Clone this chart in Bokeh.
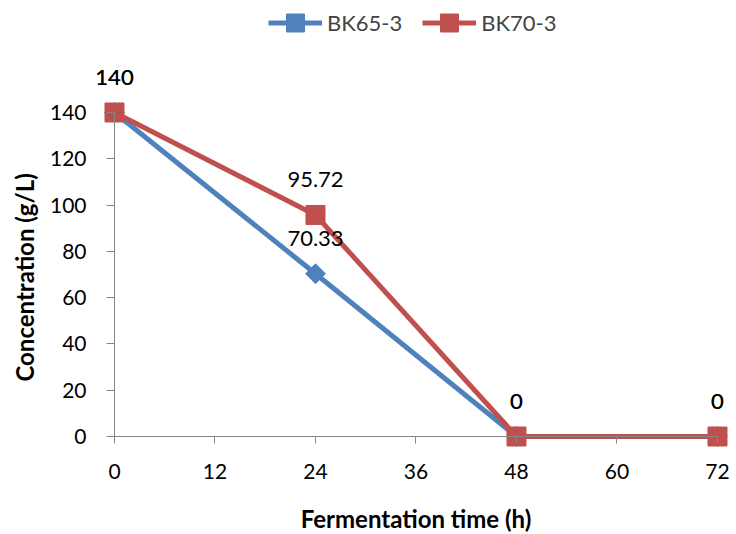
import numpy as np
from bokeh.plotting import figure
from bokeh.models import Range1d, FixedTicker, Legend, LegendItem, ColumnDataSource
from bokeh.core.properties import value
from bokeh.embed import file_html
from bokeh.resources import INLINE

# ---- data ----
time_h = [0, 24, 48, 72]
bk65_3 = [140, 70.33, 0, 0]
bk70_3 = [140, 95.72, 0, 0]
bk65_labels = ["140", "70.33", "0", "0"]
bk70_labels = ["140", "95.72", "0", "0"]
x_ticks = [0, 12, 24, 36, 48, 60, 72]
y_ticks = [0, 20, 40, 60, 80, 100, 120, 140]

BLUE = "#4F81BD"
RED = "#C0504D"
AXIS = "#868686"
FONT = "Lato"

p = figure(width=736, height=534, output_backend="svg", toolbar_location=None,
           x_range=Range1d(-13.612, 74.269), y_range=Range1d(-42.345, 188.394),
           min_border_left=0, min_border_right=0, min_border_top=0, min_border_bottom=0)
p.outline_line_color = None
p.grid.visible = False
p.background_fill_color = "white"
p.border_fill_color = "white"

for ax in (p.xaxis[0], p.yaxis[0]):
    ax.fixed_location = 0
    ax.axis_line_color = AXIS
    ax.major_tick_line_color = AXIS
    ax.minor_tick_line_color = None
    ax.major_tick_in = 0
    ax.major_label_text_font = FONT
    ax.major_label_text_font_size = "21px"
    ax.major_label_text_color = "black"
    ax.axis_label_text_font = FONT
    ax.axis_label_text_font_style = "bold"
    ax.axis_label_text_font_size = "24px"
    ax.axis_label_text_color = "black"

p.xaxis.bounds = (0, 72)
p.yaxis.bounds = (0, 140)
p.xaxis.ticker = FixedTicker(ticks=x_ticks)
p.yaxis.ticker = FixedTicker(ticks=y_ticks)
p.xaxis.major_tick_out = 7
p.yaxis.major_tick_out = 8
p.xaxis.major_label_standoff = 20
p.yaxis.major_label_standoff = 20
p.xaxis.axis_label = "Fermentation time (h)"
p.yaxis.axis_label = "Concentration  (g/L)"
p.xaxis.axis_label_standoff = 22
p.yaxis.axis_label_standoff = 8

s65 = ColumnDataSource(dict(x=time_h, y=bk65_3, t=bk65_labels))
s70 = ColumnDataSource(dict(x=time_h, y=bk70_3, t=bk70_labels))

l65 = p.line("x", "y", source=s65, line_color=BLUE, line_width=5)
m65 = p.scatter("x", "y", source=s65, marker="square", size=14, angle=np.pi / 4,
                fill_color=BLUE, line_color=BLUE)
l70 = p.line("x", "y", source=s70, line_color=RED, line_width=5)
m70 = p.scatter("x", "y", source=s70, marker="square", size=19,
                fill_color=RED, line_color=RED)

for src in (s65, s70):
    p.text("x", "y", text="t", source=src, y_offset=-35, text_align="center",
           text_baseline="middle", text_font=value(FONT), text_font_size="22px",
           text_color="black")

legend = Legend(items=[LegendItem(label="BK65-3", renderers=[l65, m65]),
                       LegendItem(label="BK70-3", renderers=[l70, m70])],
                orientation="horizontal", location=(268, 489))
legend.border_line_color = None
legend.background_fill_alpha = 0
legend.padding = 0
legend.margin = 0
legend.spacing = 20
legend.glyph_width = 54
legend.glyph_height = 45
legend.label_standoff = 5
legend.label_text_font = FONT
legend.label_text_font_size = "22px"
legend.label_height = 20
p.add_layout(legend)

open("out.html", "w").write(file_html(p, INLINE))
